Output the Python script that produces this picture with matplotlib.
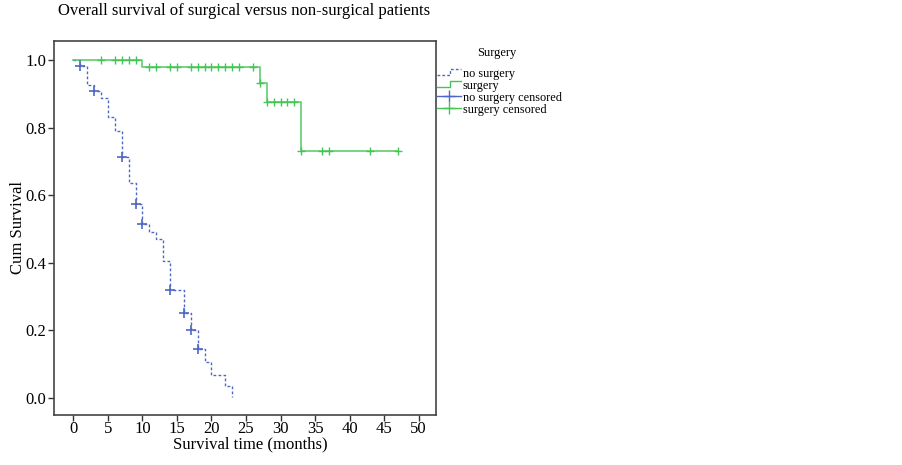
import numpy as np
import matplotlib
matplotlib.use("Agg")
import matplotlib.pyplot as plt
from matplotlib.lines import Line2D
from matplotlib.legend_handler import HandlerBase

plt.rcParams['font.family'] = ['Liberation Serif', 'DejaVu Serif']

# Kaplan-Meier steps
no_surg_t = [0, 1, 2, 3, 4, 5, 6, 7, 8, 9, 10, 11, 12, 13, 14, 16, 17, 18, 19, 20, 22, 23]
no_surg_s = [1.0, 0.983, 0.926, 0.907, 0.888, 0.830, 0.791, 0.714, 0.635, 0.575, 0.514,
             0.492, 0.470, 0.405, 0.319, 0.252, 0.201, 0.145, 0.107, 0.069, 0.037, 0.003]
no_surg_cens = [1, 3, 7, 9, 10, 14, 16, 17, 18]

surg_t = [0, 10, 27, 28, 33, 47]
surg_s = [1.0, 0.979, 0.931, 0.877, 0.732, 0.732]
surg_cens = [4, 6, 7, 8, 9, 11, 12, 14, 15, 17, 18, 19, 20, 21, 22, 23, 24, 26,
             27, 28, 29, 30, 31, 32, 33, 36, 37, 43, 47]

xticks = [0, 5, 10, 15, 20, 25, 30, 35, 40, 45, 50]
yticks = [0.0, 0.2, 0.4, 0.6, 0.8, 1.0]

blue = '#4f67c4'
green = '#45c556'


def at(times, surv, t):
    i = np.searchsorted(times, t, side='right') - 1
    return np.array(surv)[i]


class StepHandler(HandlerBase):
    def __init__(self, color, ls):
        super().__init__()
        self.color = color
        self.ls = ls

    def create_artists(self, legend, orig_handle, xdescent, ydescent, width, height, fontsize, trans):
        x0, x1 = -xdescent, -xdescent + width
        xm = x0 + width * 0.55
        y0, y1 = -ydescent + height * 0.15, -ydescent + height * 0.85
        ln = Line2D([x0, xm, xm, x1], [y0, y0, y1, y1], color=self.color,
                    linestyle=self.ls, linewidth=1.0, transform=trans)
        return [ln]


fig = plt.figure(figsize=(9.02, 4.65), dpi=100)
ax = fig.add_axes([54 / 902, 1 - 415 / 465, (436 - 54) / 902, (415 - 41) / 465])

ax.step(no_surg_t, no_surg_s, where='post', color=blue, linestyle=(0, (2, 1.6)), linewidth=1.0)
ax.step(surg_t, surg_s, where='post', color=green, linewidth=1.2, alpha=0.85)

ax.plot(no_surg_cens, at(no_surg_t, no_surg_s, no_surg_cens), linestyle='none',
        marker='+', markersize=7, markeredgewidth=1.2, color=blue)
ax.plot(surg_cens, at(surg_t, surg_s, surg_cens), linestyle='none',
        marker='+', markersize=6, markeredgewidth=1.0, color=green)

ax.set_xlim(-2.8, 52.5)
ax.set_ylim(-0.05, 1.056)
ax.set_xticks(xticks)
ax.set_yticks(yticks)
ax.set_yticklabels(['%.1f' % v for v in yticks])
ax.tick_params(direction='out', length=4.5, width=1, color='#333333', labelsize=12, pad=1)
ax.tick_params(axis='x', length=4, pad=0.5)
for sp in ax.spines.values():
    sp.set_color('#444444')
    sp.set_linewidth(1.2)

ax.set_xlabel('Survival time (months)', fontsize=12)
ax.set_ylabel('Cum Survival', fontsize=12)
ax.xaxis.set_label_coords(0.513, -0.057)
ax.yaxis.set_label_coords(-0.073, 0.5)

fig.text(58 / 902, 1 - 15 / 465, 'Overall survival of surgical versus non-surgical patients',
         fontsize=12, va='baseline', ha='left')

fig.text(497 / 902, 1 - 53 / 465, 'Surgery', fontsize=9, ha='center', va='center')

h_no = Line2D([], [], color=blue)
h_s = Line2D([], [], color=green)
h_nc = Line2D([], [], color=blue, marker='+', markersize=9, linewidth=1.0)
h_sc = Line2D([], [], color=green, marker='+', markersize=9, linewidth=1.0)
leg = fig.legend([h_no, h_s, h_nc, h_sc],
                 ['no surgery', 'surgery', 'no surgery censored', 'surgery censored'],
                 handler_map={h_no: StepHandler(blue, (0, (2, 1.5))), h_s: StepHandler(green, '-')},
                 loc='upper left', bbox_to_anchor=(428 / 902, 1 - 59 / 465),
                 frameon=False, fontsize=8.8,
                 handlelength=2.0, handletextpad=0.15, labelspacing=0.0, borderpad=0.2)

fig.savefig('out.png', dpi=100)
